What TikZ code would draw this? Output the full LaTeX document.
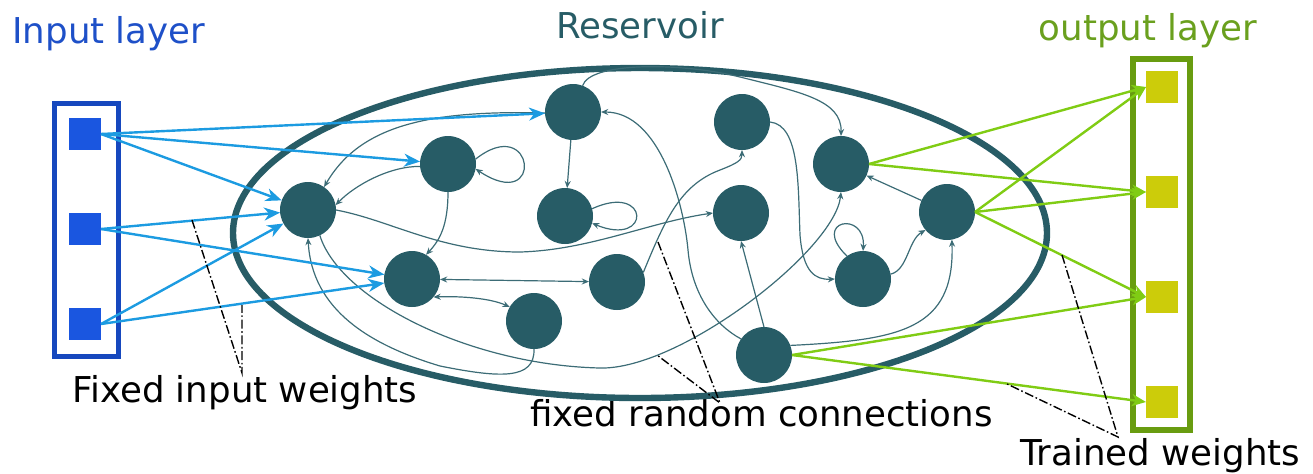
\documentclass[tikz,border=0pt]{standalone}
\usepackage{fontspec}
\setmainfont{DejaVu Sans}
\usetikzlibrary{arrows.meta}
\definecolor{cTeal}{RGB}{39,92,102}
\definecolor{cThin}{RGB}{60,108,118}
\definecolor{cInArrow}{RGB}{28,155,225}
\definecolor{cInSq}{RGB}{26,86,224}
\definecolor{cInBox}{RGB}{22,72,190}
\definecolor{cInText}{RGB}{30,80,200}
\definecolor{cOutArrow}{RGB}{128,204,20}
\definecolor{cOutBox}{RGB}{104,156,16}
\definecolor{cOutSq}{RGB}{204,204,10}
\definecolor{cOutText}{RGB}{106,160,30}
\begin{document}
\begin{tikzpicture}[x=0.5pt,y=-0.5pt,
  neuron/.style={circle,fill=cTeal,minimum size=28pt,inner sep=0pt,outer sep=0pt},
  insquare/.style={rectangle,fill=cInSq,minimum size=16pt,inner sep=0pt,outer sep=0pt},
  outsquare/.style={rectangle,fill=cOutSq,minimum size=16pt,inner sep=0pt,outer sep=0pt},
  rc/.style={draw=cThin,line width=0.6pt,-{Stealth[length=3.6pt,width=3pt]}},
  rcboth/.style={draw=cThin,line width=0.6pt,{Stealth[length=3.6pt,width=3pt]}-{Stealth[length=3.6pt,width=3pt]}},
  inw/.style={draw=cInArrow,line width=1.2pt,-{Stealth[length=8pt,width=6.5pt,inset=2.5pt]}},
  outw/.style={draw=cOutArrow,line width=1.2pt,-{Stealth[length=7pt,width=6pt,inset=2pt]}},
  leader/.style={draw=black,line width=0.7pt,dash pattern=on 4.5pt off 1.3pt on 0.8pt off 1.3pt},
  lbl/.style={font=\fontsize{17.8}{20}\selectfont,inner sep=0pt,anchor=base west}
]
\useasboundingbox (0,0) rectangle (1313,473);

% labels
\node[lbl,text=cInText] (tin) at (12,43) {Input layer};
\node[lbl,text=cTeal,anchor=base] (tres) at (640,38) {Reservoir};
\node[lbl,text=cOutText,anchor=base] (tout) at (1148,40) {output layer};
\node[lbl] (tfix) at (72,402) {Fixed input weights};
\node[lbl] (trand) at (530,426) {fixed random connections};
\node[lbl] (ttrain) at (1020,465) {Trained weights};

% reservoir outline
\draw[cTeal,line width=3.2pt] (640,233) ellipse [x radius=203.5pt, y radius=82.5pt];

% layer boxes
\node[draw=cInBox,line width=2.5pt,minimum width=32pt,minimum height=126.5pt,inner sep=0pt] (inbox) at (86.5,230) {};
\node[draw=cOutBox,line width=3pt,minimum width=28.5pt,minimum height=185.5pt,inner sep=0pt] (outbox) at (1161.5,244.5) {};

% input and output units
\node[insquare] (in1) at (85,134) {};
\node[insquare] (in2) at (85,229) {};
\node[insquare] (in3) at (85,324) {};
\node[outsquare] (out1) at (1162,87) {};
\node[outsquare] (out2) at (1162,192) {};
\node[outsquare] (out3) at (1162,297) {};
\node[outsquare] (out4) at (1162,402) {};

% reservoir neurons
\node[neuron] (nA) at (308,210) {};
\node[neuron] (nB) at (448,164) {};
\node[neuron] (nC) at (573,112) {};
\node[neuron] (nD) at (565,216) {};
\node[neuron] (nE) at (742,122) {};
\node[neuron] (nF) at (741,213) {};
\node[neuron] (nG) at (841,164) {};
\node[neuron] (nH) at (947,212) {};
\node[neuron] (nI) at (863,279) {};
\node[neuron] (nJ) at (412,279) {};
\node[neuron] (nK) at (534,321) {};
\node[neuron] (nL) at (617,282) {};
\node[neuron] (nM) at (764,355) {};

% reservoir connections
\draw[rc] (nC.182) .. controls (430,110) and (360,125) .. (nA.55);
\draw[rc] (nB.185) .. controls (390,166) and (355,185) .. (nA.10);
\draw[rc] (nB.10) .. controls (535,112) and (545,215) .. (nB.-10);
\draw[rc] (nB.south) .. controls (448,225) and (440,240) .. (nJ.60);
\draw[rc] (nA.east) .. controls (390,220) and (440,252) .. (520,252) .. controls (590,250) and (650,222) .. (nF.west);
\draw[rc] (nC) -- (nD);
\draw[rc] (nD.15) .. controls (650,182) and (652,248) .. (nD.-15);
\draw[rc] (nC.70) .. controls (590,62) and (680,62) .. (740,77) .. controls (800,92) and (842,100) .. (nG.north);
\draw[rc] (nM.145) .. controls (715,325) and (692,295) .. (688,250) .. controls (684,205) and (660,112) .. (nC.east);
\draw[rc] (nL.20) .. controls (665,220) and (680,185) .. (720,170) .. controls (738,163) and (742,160) .. (nE.south);
\draw[rcboth] (nJ) -- (nL);
\draw[rcboth] (nJ.-40) .. controls (460,296) and (490,298) .. (nK.150);
\draw[rc] (nK.south) .. controls (535,380) and (500,378) .. (440,366) .. controls (370,345) and (312,310) .. (nA.south);
\draw[rc] (nA.-65) .. controls (340,300) and (470,365) .. (600,368) .. controls (680,370) and (835,250) .. (nG.south);
\draw[rc] (nE.east) .. controls (800,125) and (798,185) .. (800,235) .. controls (803,272) and (815,280) .. (nI.west);
\draw[rc] (nI.125) .. controls (810,220) and (866,210) .. (nI.north);
\draw[rc] (nI.10) .. controls (908,270) and (908,240) .. (nH.220);
\draw[rc] (nM.20) .. controls (900,340) and (955,330) .. (nH.-80);
\draw[rc] (nH) -- (nG);
\draw[rc] (nM.north) -- (nF.south);

% input weights
\draw[inw] (in1.east) -- (nC);
\draw[inw] (in1.east) -- (nB);
\draw[inw] (in1.east) -- (nA);
\draw[inw] (in2.east) -- (nA);
\draw[inw] (in2.east) -- (nJ);
\draw[inw] (in3.east) -- (nA);
\draw[inw] (in3.east) -- (nJ);

% trained output weights
\draw[outw] (nG.east) -- (out1.west);
\draw[outw] (nG.east) -- (out2.west);
\draw[outw] (nH.east) -- (out1.west);
\draw[outw] (nH.east) -- (out2.west);
\draw[outw] (nH.east) -- (out3.west);
\draw[outw] (nM.east) -- (out3.west);
\draw[outw] (nM.east) -- (out4.west);

% leader lines
\coordinate (fa) at (242,373);
\coordinate (fa1) at (192,220);
\coordinate (fa2) at (242,305);
\coordinate (ra) at (720,403);
\coordinate (ra1) at (658,242);
\coordinate (ra2) at (657,355);
\coordinate (ta) at (1118,437);
\coordinate (ta1) at (1062,255);
\coordinate (ta2) at (1005,383);
\draw[leader] (fa1) -- (fa) -- (fa2);
\draw[leader] (ra1) -- (ra) -- (ra2);
\draw[leader] (ta1) -- (ta) -- (ta2);
\end{tikzpicture}
\end{document}
